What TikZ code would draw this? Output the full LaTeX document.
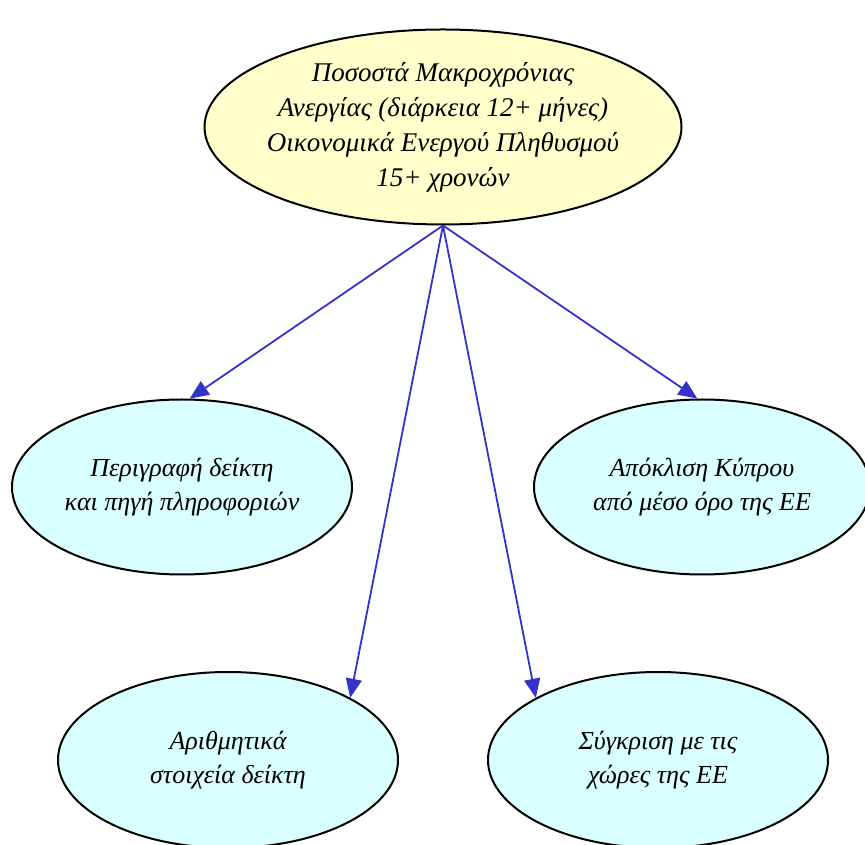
\documentclass[tikz,border=0pt]{standalone}
\usepackage{fontspec}
\setmainfont{Liberation Serif}
\usetikzlibrary{shapes.geometric,arrows.meta}
\definecolor{topfill}{HTML}{FFFFCC}
\definecolor{subfill}{HTML}{DAFFFF}
\definecolor{linkblue}{HTML}{3333CC}
\begin{document}
\begin{tikzpicture}[x=1pt,y=1pt,
	bubble/.style={ellipse, draw=black, line width=2pt, inner sep=0pt, align=center,
		font=\fontsize{26}{34}\selectfont\itshape},
	link/.style={draw=linkblue, line width=1.8pt, -{Triangle[length=19pt,width=16pt]}}]
			\useasboundingbox (0,0) rectangle (865,844);
			\node[bubble, fill=topfill, minimum width=477, minimum height=195, inner sep=-12pt, font=\fontsize{27}{35}\selectfont\itshape] (top) at (443,717) {Ποσοστά Μακροχρόνιας\\Ανεργίας (διάρκεια 12+ μήνες)\\Οικονομικά Ενεργού Πληθυσμού\\15+ χρονών};
			\node[bubble, fill=subfill, minimum width=340, minimum height=175] (desc) at (182,357) {Περιγραφή δείκτη\\και πηγή πληροφοριών};
			\node[bubble, fill=subfill, minimum width=336, minimum height=175] (cyprus) at (702,357) {Απόκλιση Κύπρου\\από μέσο όρο της ΕΕ};
			\node[bubble, fill=subfill, minimum width=340, minimum height=176] (data) at (228,84) {Αριθμητικά\\στοιχεία δείκτη};
			\node[bubble, fill=subfill, minimum width=340, minimum height=176] (compare) at (658,84) {Σύγκριση με τις\\χώρες της ΕΕ};
			
			\draw[link] (top.south) -- (desc.85);
			\draw[link] (top.south) -- (cyprus.93);
			\draw[link] (top.south) -- (data.27);
			\draw[link] (top.south) -- (compare.153);
		\end{tikzpicture}
\end{document}
